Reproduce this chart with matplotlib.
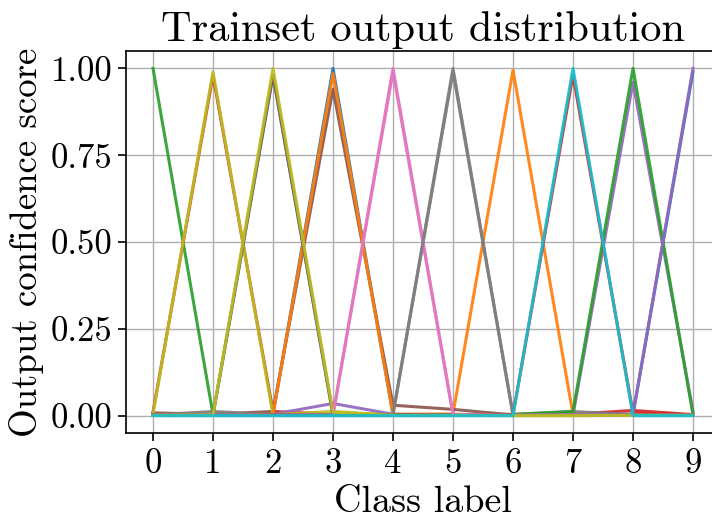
import matplotlib
matplotlib.use("Agg")
import matplotlib.pyplot as plt
import numpy as np

plt.rcParams['font.family'] = ['cmr10', 'DejaVu Serif']
plt.rcParams['mathtext.fontset'] = 'cm'
plt.rcParams['axes.formatter.use_mathtext'] = True

classes = list(range(10))
ytick_values = [0.00, 0.25, 0.50, 0.75, 1.00]
ytick_labels = ["0.00", "0.25", "0.50", "0.75", "1.00"]

# one row per training sample: softmax output over the 10 classes
scores = [
    [0.001, 0.002, 0.003, 1.000, 0.002, 0.001, 0.001, 0.001, 0.001, 0.001],
    [0.002, 0.001, 0.002, 0.003, 0.004, 0.005, 0.995, 0.003, 0.002, 0.001],
    [1.000, 0.003, 0.002, 0.001, 0.001, 0.001, 0.001, 0.002, 0.001, 0.001],
    [0.010, 0.980, 0.012, 0.004, 0.002, 0.003, 0.002, 0.004, 0.015, 0.003],
    [0.002, 0.003, 0.004, 0.035, 0.004, 0.002, 0.003, 0.002, 0.960, 0.012],
    [0.008, 0.004, 0.012, 0.940, 0.030, 0.018, 0.002, 0.001, 0.002, 0.001],
    [0.001, 0.002, 0.001, 0.003, 0.990, 0.004, 0.002, 0.001, 0.001, 0.002],
    [0.002, 0.012, 0.003, 0.002, 0.004, 0.990, 0.003, 0.012, 0.003, 0.002],
    [0.005, 0.990, 0.003, 0.012, 0.001, 0.002, 0.001, 0.002, 0.001, 0.001],
    [0.001, 0.002, 0.980, 0.002, 0.001, 0.003, 0.002, 0.001, 0.002, 0.001],
    [0.002, 0.001, 0.002, 0.001, 0.002, 0.001, 0.002, 0.003, 0.004, 0.990],
    [0.001, 0.002, 0.004, 0.985, 0.003, 0.001, 0.002, 0.001, 0.001, 0.002],
    [0.001, 0.002, 0.001, 0.002, 0.003, 0.002, 0.004, 0.012, 1.000, 0.003],
    [0.002, 0.001, 0.002, 0.003, 0.002, 0.001, 0.003, 0.980, 0.008, 0.002],
    [0.001, 0.002, 0.001, 0.002, 0.001, 0.002, 0.001, 0.002, 0.004, 1.000],
    [0.003, 0.002, 0.980, 0.003, 0.002, 0.001, 0.002, 0.001, 0.002, 0.001],
    [0.001, 0.002, 0.001, 0.002, 1.000, 0.003, 0.001, 0.002, 0.001, 0.001],
    [0.001, 0.002, 0.001, 0.002, 0.003, 1.000, 0.002, 0.001, 0.002, 0.001],
    [0.001, 0.002, 1.000, 0.010, 0.001, 0.001, 0.000, 0.000, 0.001, 0.001],
    [0.000, 0.000, 0.000, 0.000, 0.000, 0.000, 0.000, 1.000, 0.000, 0.000],
]

fig = plt.figure(figsize=(7.12, 5.18), dpi=100)
ax = fig.add_axes([126 / 712, 85 / 518, 594 / 712, 382 / 518])

for row in scores:
    ax.plot(classes, row, linewidth=2.2, alpha=0.92)

ax.set_xlim(-0.45, 9.45)
ax.set_ylim(-0.05, 1.05)
ax.set_xticks(classes)
ax.set_xticklabels([str(c) for c in classes])
ax.set_yticks(ytick_values)
ax.set_yticklabels(ytick_labels)
ax.grid(True, color='#b0b0b0', linewidth=1.0)
ax.set_axisbelow(True)
ax.tick_params(axis='both', labelsize=25, length=6, width=1.2)
ax.tick_params(axis='x', pad=5)
for s in ax.spines.values():
    s.set_linewidth(1.2)

ax.set_xlabel("Class label", fontsize=27.5, labelpad=4)
ax.set_ylabel("Output confidence score", fontsize=26.5, labelpad=5)
ax.set_title("Trainset output distribution", fontsize=30.5, pad=7)

fig.savefig("out.png", dpi=100)
